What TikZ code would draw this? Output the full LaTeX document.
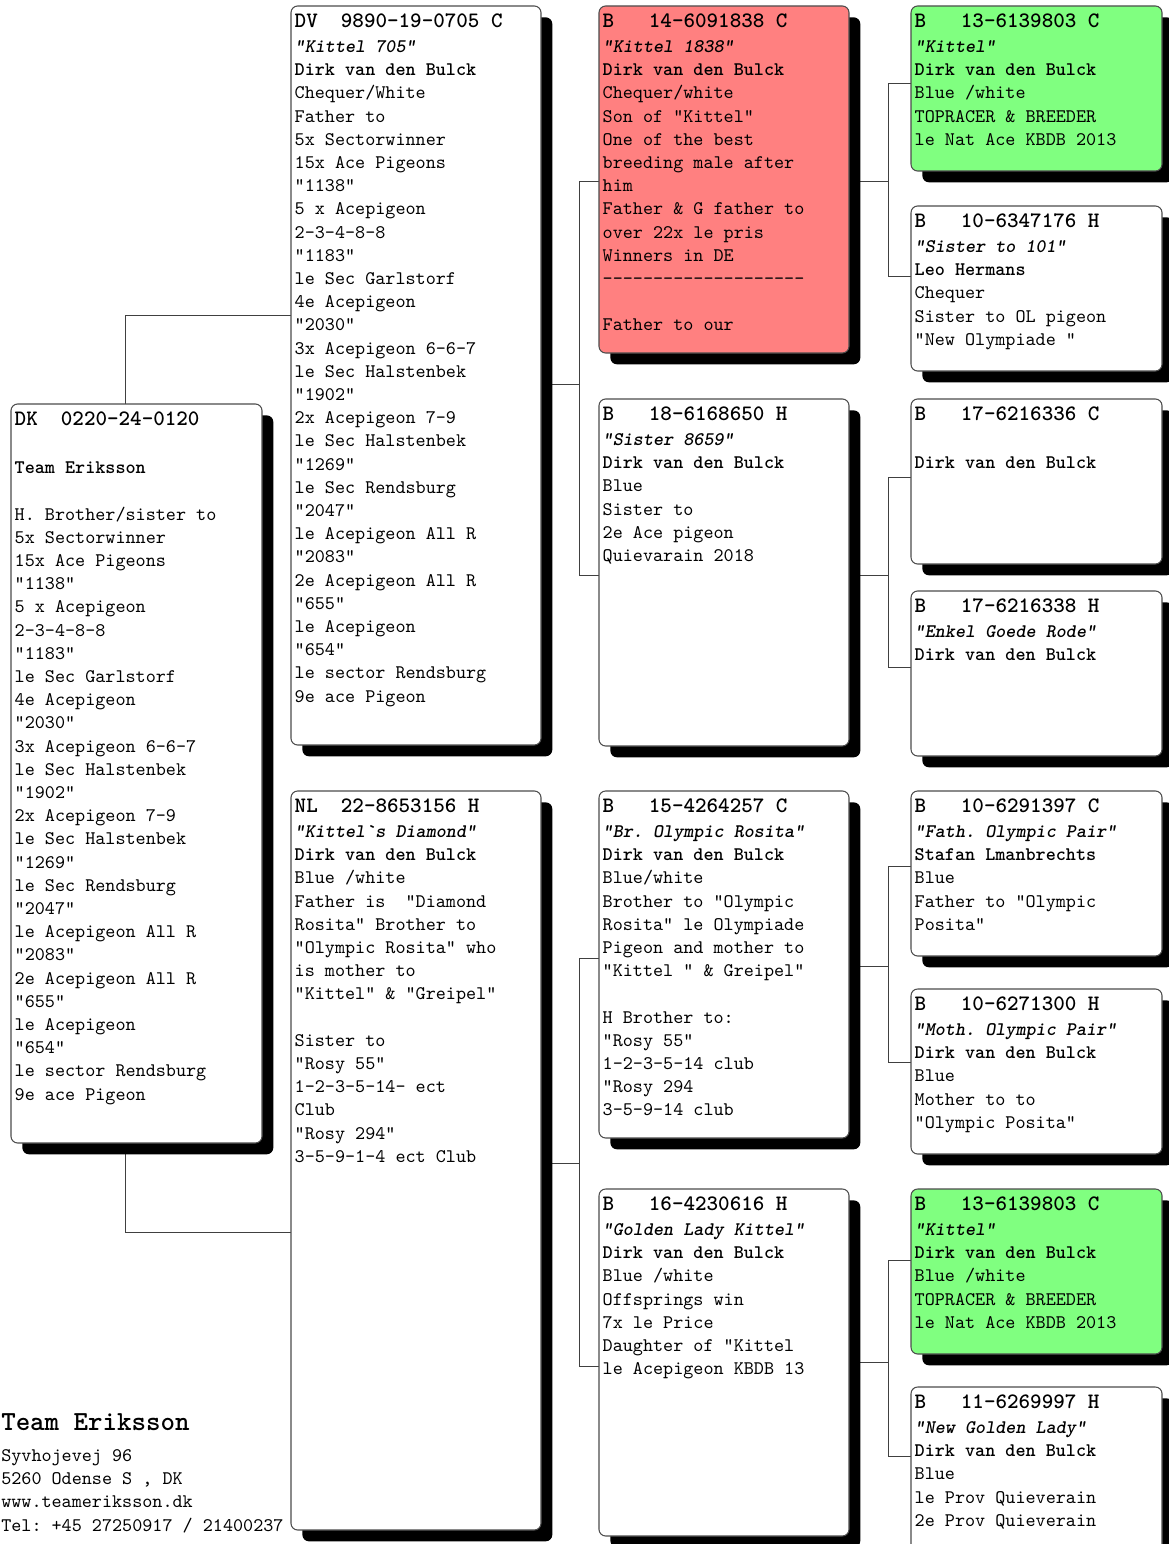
\documentclass[tikz,border=0pt]{standalone}
\usepackage{fontspec}
\setmonofont{lmmono10-regular.otf}[BoldFont=lmmonolt10-bold.otf,
  ItalicFont=lmmono10-italic.otf,BoldItalicFont=lmmonolt10-boldoblique.otf]
\usetikzlibrary{positioning,backgrounds,shadows}

\definecolor{sirered}{RGB}{255,128,128}
\definecolor{kittelgreen}{RGB}{128,255,128}

\newcommand{\pedfont}{\fontsize{14.4}{17.4}\selectfont\ttfamily}
\newcommand{\pedhead}[1]{{\fontsize{16.5}{19.5}\selectfont\bfseries\strut#1}}
\newcommand{\pedname}[1]{{\bfseries\itshape#1}}
\newcommand{\pedbreeder}[1]{{\bfseries#1}}

\tikzset{%
pbox/.style={draw=black!70,fill=white,rounded corners=5pt,line width=0.8pt,
  inner sep=0pt,outer sep=0pt,anchor=north west,
  drop shadow={shadow xshift=8.5pt,shadow yshift=-8.5pt,fill=black,opacity=1}},
gen1/.style={pbox,minimum width=188.25pt,minimum height=554.25pt},
gen2/.style={pbox,minimum width=187.5pt,minimum height=554.25pt},
gen3/.style={pbox,minimum width=187.5pt,minimum height=260.25pt},
gen4/.style={pbox,minimum width=188.25pt,minimum height=123.75pt},
ptext/.style={anchor=north west,align=left,inner xsep=2.6pt,inner ysep=2.6pt,font=\pedfont},
link/.style={draw=black!75,line width=0.75pt}
}

\begin{document}
\begin{tikzpicture}[x=0.75pt,y=-0.75pt]
  \useasboundingbox (0,0) rectangle (1168,1544);

  % pigeon
  \node[gen1] (subj) at (11,404) {};
  \node[ptext] (subjt) at (subj.north west) {\pedhead{DK~~0220-24-0120}\\[18.4pt]
    \pedbreeder{Team Eriksson}\\[17.4pt]
    H. Brother/sister to\\ 5x Sectorwinner\\ 15x Ace Pigeons\\ "1138"\\
    5 x Acepigeon\\ 2-3-4-8-8\\ "1183"\\ le Sec Garlstorf\\ 4e Acepigeon\\
    "2030"\\ 3x Acepigeon 6-6-7\\ le Sec Halstenbek\\ "1902"\\
    2x Acepigeon 7-9\\ le Sec Halstenbek\\ "1269"\\ le Sec Rendsburg\\
    "2047"\\ le Acepigeon All R\\ "2083"\\ 2e Acepigeon All R\\ "655"\\
    le Acepigeon\\ "654"\\ le sector Rendsburg\\ 9e ace Pigeon};

  % parents
  \node[gen2] (sire) at (291,6) {};
  \node[ptext] (siret) at (sire.north west) {\pedhead{DV~~9890-19-0705 C}\\[1pt]
    \pedname{"Kittel 705"}\\ \pedbreeder{Dirk van den Bulck}\\
    Chequer/White\\ Father to\\ 5x Sectorwinner\\ 15x Ace Pigeons\\ "1138"\\
    5 x Acepigeon\\ 2-3-4-8-8\\ "1183"\\ le Sec Garlstorf\\ 4e Acepigeon\\
    "2030"\\ 3x Acepigeon 6-6-7\\ le Sec Halstenbek\\ "1902"\\
    2x Acepigeon 7-9\\ le Sec Halstenbek\\ "1269"\\ le Sec Rendsburg\\
    "2047"\\ le Acepigeon All R\\ "2083"\\ 2e Acepigeon All R\\ "655"\\
    le Acepigeon\\ "654"\\ le sector Rendsburg\\ 9e ace Pigeon};

  \node[gen2] (dam) at (291,791) {};
  \node[ptext] (damt) at (dam.north west) {\pedhead{NL~~22-8653156 H}\\[1pt]
    \pedname{"Kittel`s Diamond"}\\ \pedbreeder{Dirk van den Bulck}\\
    Blue /white\\ Father is~ "Diamond\\ Rosita" Brother to\\
    "Olympic Rosita" who\\ is mother to\\ "Kittel" \& "Greipel"\\[17.4pt]
    Sister to\\ "Rosy 55"\\ 1-2-3-5-14- ect\\ Club\\ "Rosy 294"\\
    3-5-9-1-4 ect Club};

  % grandparents
  \node[gen3,fill=sirered] (ss) at (599,6) {};
  \node[ptext] (sst) at (ss.north west) {\pedhead{B~~~14-6091838 C}\\[1pt]
    \pedname{"Kittel 1838"}\\ \pedbreeder{Dirk van den Bulck}\\
    Chequer/white\\ Son of "Kittel"\\ One of the best\\ breeding male after\\
    him\\ Father \& G father to\\ over 22x le pris\\ Winners in DE\\
    --------------------\\[17.4pt]
    Father to our};

  \node[gen3] (sd) at (599,399) {};
  \node[ptext] (sdt) at (sd.north west) {\pedhead{B~~~18-6168650 H}\\[1pt]
    \pedname{"Sister 8659"}\\ \pedbreeder{Dirk van den Bulck}\\
    Blue\\ Sister to\\ 2e Ace pigeon\\ Quievarain 2018};

  \node[gen3] (ds) at (599,791) {};
  \node[ptext] (dst) at (ds.north west) {\pedhead{B~~~15-4264257 C}\\[1pt]
    \pedname{"Br. Olympic Rosita"}\\ \pedbreeder{Dirk van den Bulck}\\
    Blue/white\\ Brother to "Olympic\\ Rosita" le Olympiade\\
    Pigeon and mother to\\ "Kittel " \& Greipel"\\[17.4pt]
    H Brother to:\\ "Rosy 55"\\ 1-2-3-5-14 club\\ "Rosy 294\\ 3-5-9-14 club};

  \node[gen3] (dd) at (599,1189) {};
  \node[ptext] (ddt) at (dd.north west) {\pedhead{B~~~16-4230616 H}\\[1pt]
    \pedname{"Golden Lady Kittel"}\\ \pedbreeder{Dirk van den Bulck}\\
    Blue /white\\ Offsprings win\\ 7x le Price\\ Daughter of "Kittel\\
    le Acepigeon KBDB 13};

  % great-grandparents
  \node[gen4,fill=kittelgreen] (sss) at (911,6) {};
  \node[ptext] (ssst) at (sss.north west) {\pedhead{B~~~13-6139803 C}\\[1pt]
    \pedname{"Kittel"}\\ \pedbreeder{Dirk van den Bulck}\\
    Blue /white\\ TOPRACER \& BREEDER\\ le Nat Ace KBDB 2013};

  \node[gen4] (ssd) at (911,206) {};
  \node[ptext] (ssdt) at (ssd.north west) {\pedhead{B~~~10-6347176 H}\\[1pt]
    \pedname{"Sister to 101"}\\ \pedbreeder{Leo Hermans}\\
    Chequer\\ Sister to OL pigeon\\ "New Olympiade "};

  \node[gen4] (sds) at (911,399) {};
  \node[ptext] (sdst) at (sds.north west) {\pedhead{B~~~17-6216336 C}\\[18.4pt]
    \pedbreeder{Dirk van den Bulck}};

  \node[gen4] (sdd) at (911,591) {};
  \node[ptext] (sddt) at (sdd.north west) {\pedhead{B~~~17-6216338 H}\\[1pt]
    \pedname{"Enkel Goede Rode"}\\ \pedbreeder{Dirk van den Bulck}};

  \node[gen4] (dss) at (911,791) {};
  \node[ptext] (dsst) at (dss.north west) {\pedhead{B~~~10-6291397 C}\\[1pt]
    \pedname{"Fath. Olympic Pair"}\\ \pedbreeder{Stafan Lmanbrechts}\\
    Blue\\ Father to "Olympic\\ Posita"};

  \node[gen4] (dsd) at (911,989) {};
  \node[ptext] (dsdt) at (dsd.north west) {\pedhead{B~~~10-6271300 H}\\[1pt]
    \pedname{"Moth. Olympic Pair"}\\ \pedbreeder{Dirk van den Bulck}\\
    Blue\\ Mother to to\\ "Olympic Posita"};

  \node[gen4,fill=kittelgreen] (dds) at (911,1189) {};
  \node[ptext] (ddst) at (dds.north west) {\pedhead{B~~~13-6139803 C}\\[1pt]
    \pedname{"Kittel"}\\ \pedbreeder{Dirk van den Bulck}\\
    Blue /white\\ TOPRACER \& BREEDER\\ le Nat Ace KBDB 2013};

  \node[gen4] (ddd) at (911,1387) {};
  \node[ptext] (dddt) at (ddd.north west) {\pedhead{B~~~11-6269997 H}\\[1pt]
    \pedname{"New Golden Lady"}\\ \pedbreeder{Dirk van den Bulck}\\
    Blue\\ le Prov Quieverain\\ 2e Prov Quieverain};

  % breeder
  \node[anchor=base west,inner sep=0pt,font=\fontsize{20.7}{24}\selectfont\ttfamily\bfseries]
    (team) at (1,1430) {Team Eriksson};
  \node[ptext,inner sep=0pt] (addr) at (1,1445) {\strut Syvhojevej 96\\ 5260 Odense S , DK\\
    www.teameriksson.dk\\ Tel: +45 27250917 / 21400237};

  % lines
  \begin{scope}[on background layer]
    \draw[link] (subj.north -| 125,0) |- (sire.west |- 0,316);
    \draw[link] (subj.south -| 125,0) |- (dam.west |- 0,1232);

    \draw[link] (sire.east |- 0,384) -- (579,384);
    \draw[link] (ss.west |- 0,182) -| (579,575) -- (sd.west |- 0,575);
    \draw[link] (dam.east |- 0,1163) -- (579,1163);
    \draw[link] (ds.west |- 0,958) -| (579,1366) -- (dd.west |- 0,1366);

    \draw[link] (ss.east |- 0,182) -- (888,182);
    \draw[link] (sss.west |- 0,84) -| (888,277) -- (ssd.west |- 0,277);
    \draw[link] (sd.east |- 0,575) -- (888,575);
    \draw[link] (sds.west |- 0,477) -| (888,667) -- (sdd.west |- 0,667);
    \draw[link] (ds.east |- 0,966) -- (888,966);
    \draw[link] (dss.west |- 0,866) -| (888,1062) -- (dsd.west |- 0,1062);
    \draw[link] (dd.east |- 0,1362) -- (888,1362);
    \draw[link] (dds.west |- 0,1260) -| (888,1456) -- (ddd.west |- 0,1456);
  \end{scope}
\end{tikzpicture}
\end{document}
